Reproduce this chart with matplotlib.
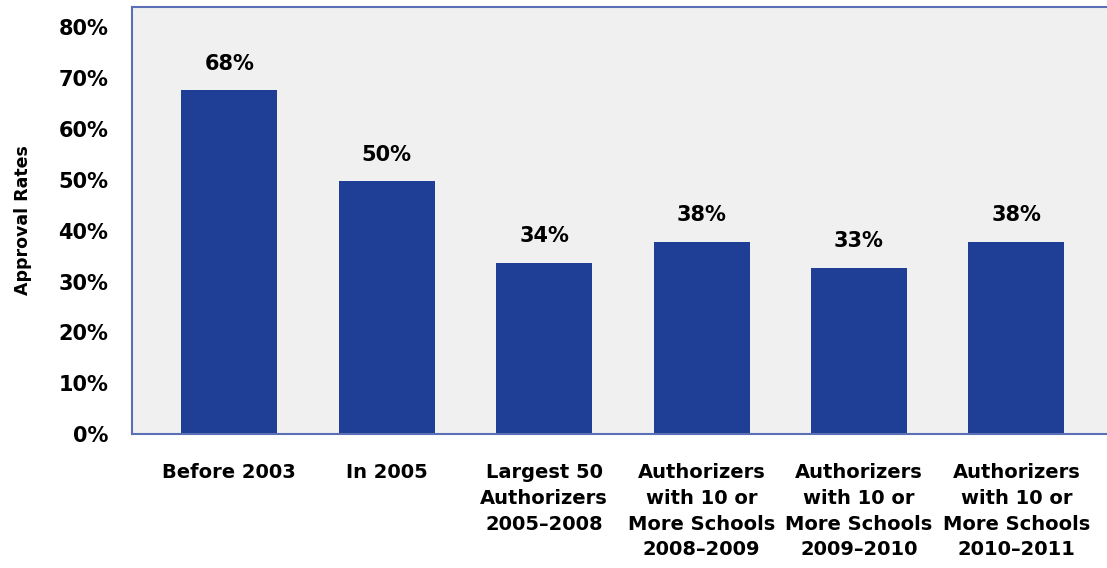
import matplotlib
matplotlib.use('agg')
import matplotlib.pyplot as plt

categories = ['Before 2003', 'In 2005', 'Largest 50\nAuthorizers\n2005\u20132008',
              'Authorizers\nwith 10 or\nMore Schools\n2008\u20132009',
              'Authorizers\nwith 10 or\nMore Schools\n2009\u20132010',
              'Authorizers\nwith 10 or\nMore Schools\n2010\u20132011']
rates = [67.6, 49.7, 33.7, 37.8, 32.7, 37.8]
rate_labels = ['68%', '50%', '34%', '38%', '33%', '38%']
yticks = [0, 10, 20, 30, 40, 50, 60, 70, 80]

plt.rcParams['font.family'] = ['DejaVu Sans']
plt.rcParams['font.weight'] = 'bold'

fig = plt.figure(figsize=(11.07, 5.68), dpi=100)
ax = fig.add_axes([132/1107, 1 - 434/568, 1 - 132/1107 + 0.002, 427/568])
ax.set_facecolor('#f0f0f0')

x = range(len(categories))
ax.bar(x, rates, width=0.61, color='#1e3f95', zorder=2)
for xi, v, lab in zip(x, rates, rate_labels):
    ax.annotate(lab, (xi, v), xytext=(0, 12), textcoords='offset points',
                ha='center', va='bottom', fontsize=15, fontweight='bold')

ax.set_xlim(-0.618, 5.59)
ax.set_ylim(0, 84)
ax.set_yticks(yticks)
ax.set_yticklabels([f'{t}%' for t in yticks], fontsize=15, fontweight='bold')
ax.set_xticks(list(x))
ax.set_xticklabels(categories, fontsize=14, fontweight='bold', linespacing=1.45, va='top')
ax.tick_params(axis='both', length=0)
ax.tick_params(axis='x', pad=21)
ax.tick_params(axis='y', pad=17)
for s in ax.spines.values():
    s.set_color('#5a6fb5')
    s.set_linewidth(1.5)
ax.set_ylabel('Approval Rates', fontsize=12.5, fontweight='bold', labelpad=19)

fig.savefig('out.png', dpi=100)
